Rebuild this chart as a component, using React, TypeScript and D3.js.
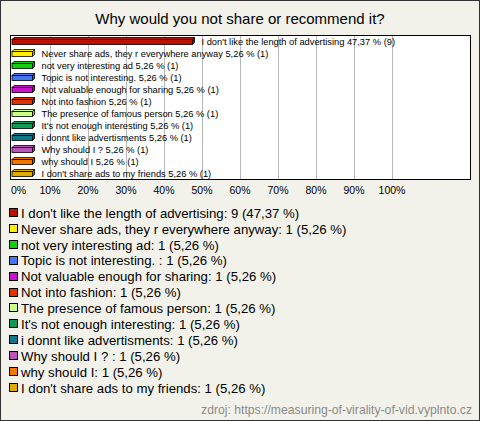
import React from "react";
import * as d3 from "d3";

const title = "Why would you not share or recommend it?";
const categories = [
  "I don't like the length of advertising",
  "Never share ads, they r everywhere anyway",
  "not very interesting ad",
  "Topic is not interesting. ",
  "Not valuable enough for sharing",
  "Not into fashion",
  "The presence of famous person",
  "It's not enough interesting",
  "i donnt like advertisments",
  "Why should I ? ",
  "why should I",
  "I don't share ads to my friends",
];
const counts = [9, 1, 1, 1, 1, 1, 1, 1, 1, 1, 1, 1];
const percents = [47.37, 5.26, 5.26, 5.26, 5.26, 5.26, 5.26, 5.26, 5.26, 5.26, 5.26, 5.26];
const colors = [
  "#bb1100", "#ffee00", "#11cc11", "#4477ee", "#cc11cc", "#dd3300",
  "#ccff88", "#119955", "#117788", "#bb55bb", "#ee7700", "#ddaa00",
];
const tickValues = [0, 10, 20, 30, 40, 50, 60, 70, 80, 90, 100];
const source = "zdroj: https://measuring-of-virality-of-vid.vyplnto.cz";

const fmt = (v: number) => v.toFixed(2).replace(".", ",");

export default function App() {
  const W = 480, H = 421;
  const plot = { x0: 10.5, x1: 470.5, y0: 35.5, y1: 179.5 };
  const x = d3.scaleLinear().domain([0, 100]).range([12, 392]);
  const y = d3.scaleBand<number>().domain(d3.range(categories.length)).range([35, 179]);
  const legendY = d3.scalePoint<number>().domain(d3.range(categories.length)).range([213, 388]);
  const font = "'Liberation Sans', Arial, sans-serif";
  const narrow = "'Liberation Sans Narrow', 'Arial Narrow', sans-serif";

  return (
    <svg width={W} height={H} style={{ position: "absolute", left: 0, top: 0 }} fontFamily={font}>
      <rect x={0.5} y={0.5} width={W - 1} height={H - 1} fill="#f3f2ea" stroke="#333" />
      <text x={240} y={24} textAnchor="middle" fontSize={15} fill="#000">{title}</text>
      <rect x={plot.x0} y={plot.y0} width={plot.x1 - plot.x0} height={plot.y1 - plot.y0} fill="#fff" />
      {tickValues.filter((t) => t > 0).map((t) => (
        <line key={t} x1={Math.round(x(t)) + 0.5} x2={Math.round(x(t)) + 0.5} y1={plot.y0} y2={plot.y1} stroke="#b8b8b8" />
      ))}
      <rect x={plot.x0} y={plot.y0} width={plot.x1 - plot.x0} height={plot.y1 - plot.y0} fill="none" stroke="#000" />
      {categories.map((c, i) => {
        const cy = Math.round((y(i) as number) + y.bandwidth() / 2) + 0.5;
        const x0 = x(0);
        const x1 = Math.round(x(percents[i])) + 0.5;
        const d = 2;
        const top = cy - 2, bot = cy + 3;
        const col = colors[i];
        const dark = d3.color(col)!.darker(0.8).formatHex();
        return (
          <g key={c}>
            <polygon points={`${x0},${top} ${x0 + d},${top - d} ${x1 + d},${top - d} ${x1},${top}`} fill={col} stroke="#000" strokeWidth={0.8} />
            <polygon points={`${x1},${top} ${x1 + d},${top - d} ${x1 + d},${bot - d} ${x1},${bot}`} fill={dark} stroke="#000" strokeWidth={0.8} />
            <rect x={x0} y={top} width={x1 - x0} height={bot - top} fill={col} stroke="#000" strokeWidth={0.8} />
            <text x={x1 + 9} y={cy + 3.5} fontSize={9.3} fontFamily={narrow} fill="#000">{`${c} ${fmt(percents[i])} % (${counts[i]})`}</text>
          </g>
        );
      })}
      {tickValues.map((t) => (
        <text key={t} x={t === 0 ? 11 : x(t)} y={194} fontSize={10.5} textAnchor={t === 0 ? "start" : "middle"} fill="#000">{`${t}%`}</text>
      ))}
      {categories.map((c, i) => {
        const ly = legendY(i) as number;
        return (
          <g key={"l" + c}>
            <rect x={9.5} y={Math.round(ly) - 4.5} width={8} height={8} fill={colors[i]} stroke="#000" />
            <text x={21} y={ly + 4.7} fontSize={13.2} fill="#000">{`${c}: ${counts[i]} (${fmt(percents[i])} %)`}</text>
          </g>
        );
      })}
      <text x={472} y={414} textAnchor="end" fontSize={12.2} fill="#8a8a8a">{source}</text>
    </svg>
  );
}
